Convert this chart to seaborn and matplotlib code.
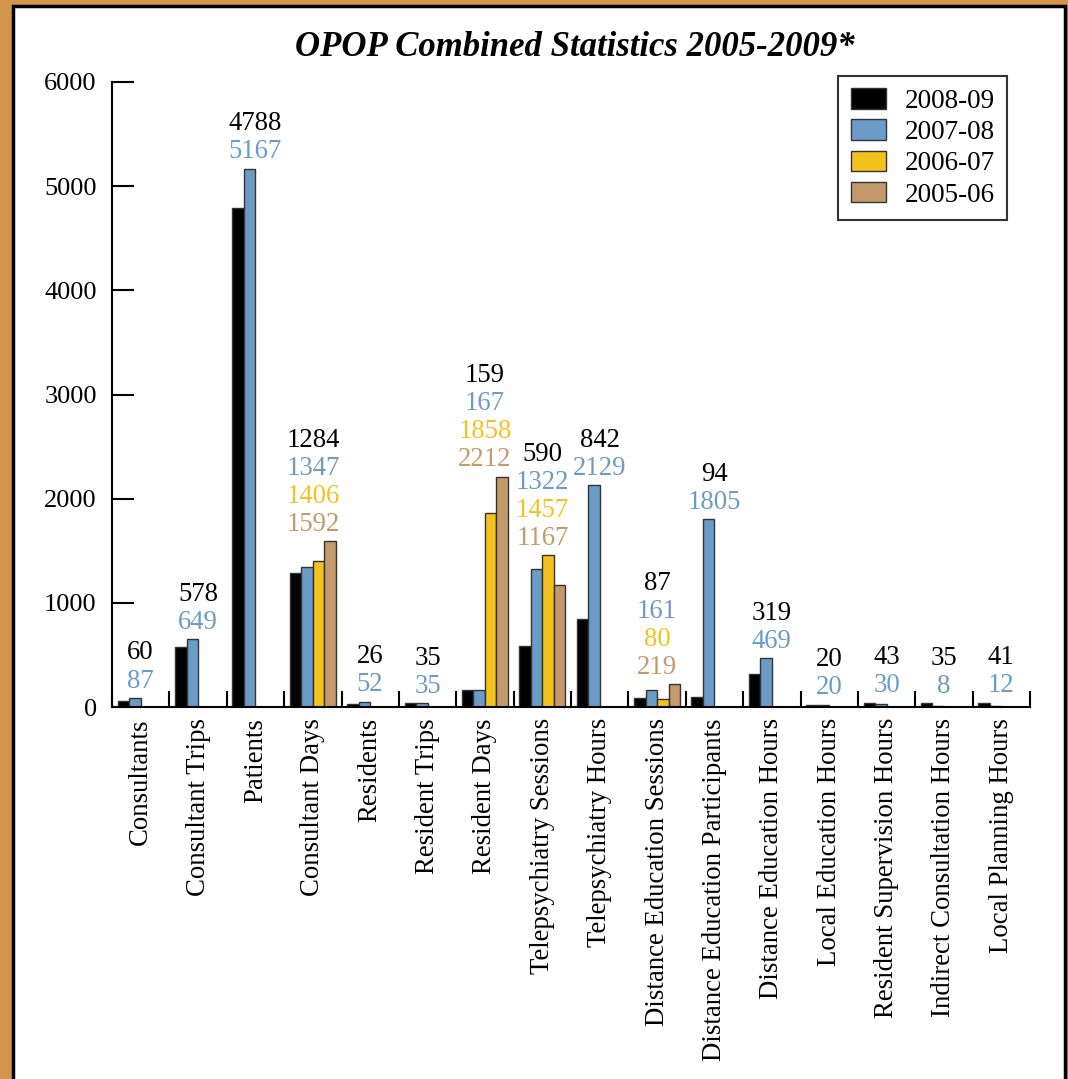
import numpy as np
import pandas as pd
import matplotlib
matplotlib.use("Agg")
import matplotlib.pyplot as plt
import matplotlib.patches as mpatches
import seaborn as sb

# data
categories = ["Consultants", "Consultant Trips", "Patients", "Consultant Days",
              "Residents", "Resident Trips", "Resident Days", "Telepsychiatry Sessions",
              "Telepsychiatry Hours", "Distance Education Sessions",
              "Distance Education Participants", "Distance Education Hours",
              "Local Education Hours", "Resident Supervision Hours",
              "Indirect Consultation Hours", "Local Planning Hours"]
years = ["2008-09", "2007-08", "2006-07", "2005-06"]
nan = np.nan
v_2008_09 = [60, 578, 4788, 1284, 26, 35, 159, 590, 842, 87, 94, 319, 20, 43, 35, 41]
v_2007_08 = [87, 649, 5167, 1347, 52, 35, 167, 1322, 2129, 161, 1805, 469, 20, 30, 8, 12]
v_2006_07 = [nan, nan, nan, 1406, nan, nan, 1858, 1457, nan, 80, nan, nan, nan, nan, nan, nan]
v_2005_06 = [nan, nan, nan, 1592, nan, nan, 2212, 1167, nan, 219, nan, nan, nan, nan, nan, nan]
colors = ["#000000", "#6B9BC7", "#F4C21E", "#C49A6C"]

series = [v_2008_09, v_2007_08, v_2006_07, v_2005_06]
rows = []
for year, vals in zip(years, series):
    for cat, v in zip(categories, vals):
        if not np.isnan(v):
            rows.append({"category": cat, "year": year, "value": v})
df = pd.DataFrame(rows)

sb.set_style("white")
plt.rcParams["font.family"] = ["Liberation Serif", "DejaVu Serif"]
plt.rcParams["text.color"] = "black"
plt.rcParams["xtick.color"] = "black"
plt.rcParams["ytick.color"] = "black"

fig = plt.figure(figsize=(10.68, 10.79), dpi=100)
fig.patch.set_facecolor("#D2964B")
panel = mpatches.Rectangle((13 / 1068, -0.02), 1052 / 1068, 1.02 - 6 / 1079,
                           transform=fig.transFigure, facecolor="white",
                           edgecolor="black", linewidth=2.5, zorder=-10)
fig.patches.append(panel)

ax = fig.add_axes([112 / 1068, 1 - 707 / 1079, (1030 - 112) / 1068, (707 - 82) / 1079])
ax.set_facecolor("none")
ax.set_zorder(1)

sb.barplot(data=df, x="category", y="value", hue="year", order=categories,
           hue_order=years, palette=colors, width=0.8, errorbar=None, saturation=1,
           edgecolor="#333333", linewidth=1, ax=ax)

ax.set_xlim(-0.5, len(categories) - 0.5)
ax.set_ylim(0, 6000)
ax.set_yticks(range(0, 6001, 1000))
ax.set_xlabel("")
ax.set_ylabel("")
for s in ["top", "right"]:
    ax.spines[s].set_visible(False)
for s in ["left", "bottom"]:
    ax.spines[s].set_linewidth(1.5)
    ax.spines[s].set_color("black")

ax.tick_params(axis="y", left=True, direction="in", length=16, width=1.5, pad=11, labelsize=19)
ax.tick_params(axis="x", which="major", length=0, pad=8, labelsize=19.3, labelrotation=90)
ax.set_xticks(np.arange(-0.5, len(categories), 1.0), minor=True)
ax.tick_params(axis="x", which="minor", bottom=True, direction="in", length=11.5, width=1.5)

# stacked value labels above each group
for i, cat in enumerate(categories):
    present = [(years[k], series[k][i], colors[k]) for k in range(4) if not np.isnan(series[k][i])]
    top = max(v for _, v, _ in present)
    for j, (_, v, c) in enumerate(reversed(present)):
        ax.annotate(f"{int(v)}", xy=(i, top), xytext=(0, 7.5 + j * 20.2),
                    textcoords="offset points", ha="center", va="baseline",
                    fontsize=19.3, color=c)

handles = [mpatches.Patch(facecolor=c, edgecolor="#333333", linewidth=1, label=y)
           for y, c in zip(years, colors)]
ax.get_legend().remove()
leg = fig.legend(handles=handles, loc="upper right",
                 bbox_to_anchor=(1007 / 1068, 1 - 76 / 1079), fontsize=19.5,
                 frameon=True, fancybox=False, handlelength=1.3, handleheight=0.8,
                 borderpad=0.45, labelspacing=0.2, handletextpad=0.7, borderaxespad=0)
leg.get_frame().set_edgecolor("black")
leg.get_frame().set_linewidth(1.5)
leg.set_zorder(5)

fig.text(575 / 1068, 1 - 47 / 1079, "OPOP Combined Statistics 2005-2009*",
         ha="center", va="center", fontsize=25, fontweight="bold", fontstyle="italic")

fig.savefig("out.png", dpi=100, facecolor=fig.get_facecolor())
